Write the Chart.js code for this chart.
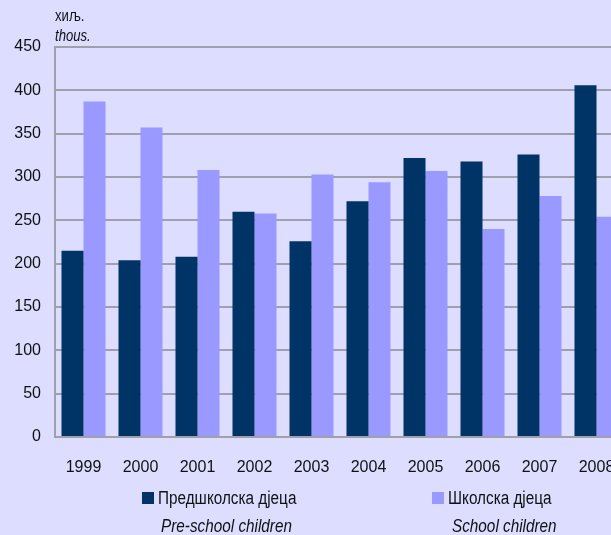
<!DOCTYPE html>
<html>
<head>
<meta charset="utf-8">
<script src="https://cdn.jsdelivr.net/npm/chart.js@4/dist/chart.umd.min.js"></script>
<style>
  html, body { margin: 0; padding: 0; width: 611px; height: 535px; overflow: hidden; background: #ddddff; }
  #wrap { position: relative; width: 640px; height: 535px; }
  /* the reference uses a condensed face; squeeze Liberation Sans to match */
  .lbl { position: absolute; font-family: "Liberation Sans", Arial, sans-serif; color: #111; white-space: nowrap; line-height: 1; transform-origin: left top; transform: scaleX(0.85); }
  .sm { transform: scaleX(0.82); }
  .it { font-style: italic; }
  .box { position: absolute; width: 12px; height: 12px; }
</style>
</head>
<body>
<div id="wrap">
  <canvas id="chart" width="640" height="535"></canvas>
  <div class="lbl sm" style="left:55px; top:8px; font-size:16px;">хиљ.</div>
  <div class="lbl sm it" style="left:55px; top:28px; font-size:16px;">thous.</div>

  <div class="box" style="left:142px; top:492px; background:#003366;"></div>
  <div class="lbl" style="left:158px; top:489px; font-size:18px;">Предшколска дјеца</div>
  <div class="lbl it" style="left:161px; top:517px; font-size:18px;">Pre-school children</div>

  <div class="box" style="left:432px; top:492px; background:#9999ff;"></div>
  <div class="lbl" style="left:448px; top:489px; font-size:18px;">Школска дјеца</div>
  <div class="lbl it" style="left:452px; top:517px; font-size:18px;">School children</div>
</div>
<script>
// Data (thousands)
const years = ["1999", "2000", "2001", "2002", "2003", "2004", "2005", "2006", "2007", "2008"];
const preSchool = [215, 204, 208, 260, 226, 272, 322, 318, 326, 406];
const school = [387, 357, 308, 258, 303, 294, 307, 240, 278, 254];

const font = { family: "'Liberation Sans', Arial, sans-serif", size: 16 };

new Chart(document.getElementById("chart"), {
  type: "bar",
  data: {
    labels: years,
    datasets: [
      { label: "Предшколска дјеца", data: preSchool, backgroundColor: "#003366" },
      { label: "Школска дјеца", data: school, backgroundColor: "#9999ff" }
    ]
  },
  options: {
    responsive: false,
    animation: false,
    layout: { padding: { top: 47, right: 15, bottom: 58, left: 0 } },
    datasets: { bar: { categoryPercentage: 0.772, barPercentage: 1.0 } },
    plugins: { legend: { display: false }, tooltip: { enabled: false } },
    scales: {
      x: {
        grid: { display: false, drawTicks: false },
        border: { display: true, color: "#a0a0a8", width: 2 },
        ticks: { font: font, color: "#111", padding: 21, maxRotation: 0 },
        afterFit: s => { s.height = 40; }
      },
      y: {
        min: 0,
        max: 450,
        ticks: { stepSize: 50, font: font, color: "#111", padding: 14 },
        grid: { color: "#a0a0a8", lineWidth: 2, drawTicks: false },
        border: { display: true, color: "#a0a0a8", width: 2 },
        afterFit: s => { s.width = 55; }
      }
    }
  }
});
</script>
</body>
</html>
